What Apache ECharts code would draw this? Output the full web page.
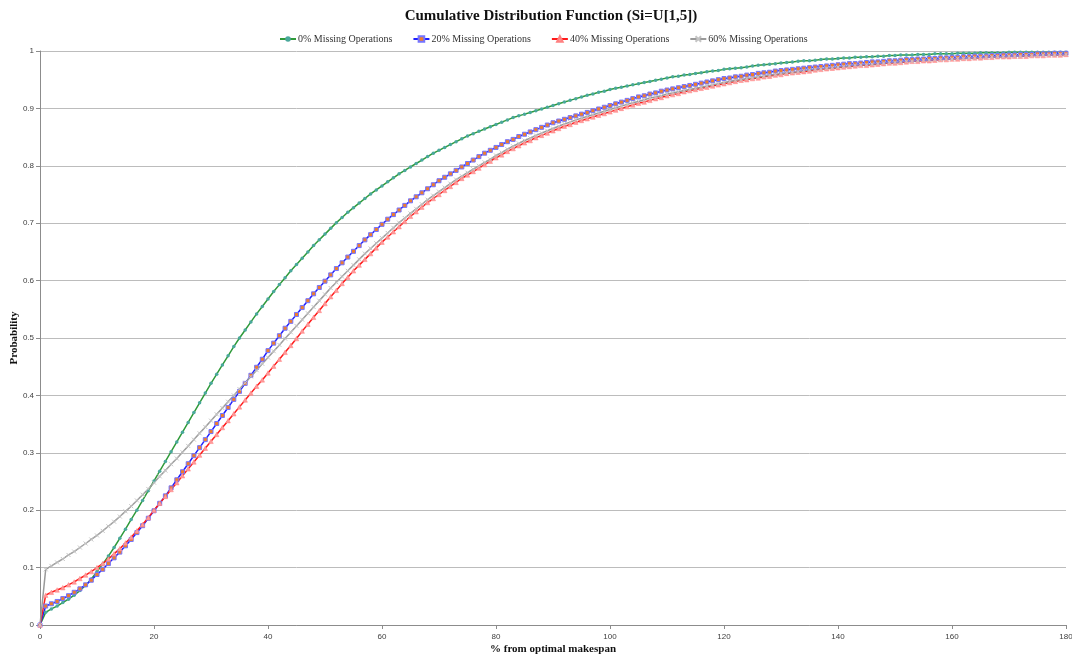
<!DOCTYPE html>
<html>
<head>
<meta charset="utf-8">
<script src="https://cdn.jsdelivr.net/npm/echarts@6/dist/echarts.min.js"></script>
<style>html,body{margin:0;padding:0;background:#fff}#c{width:1072px;height:660px}</style>
</head>
<body>
<div id="c"></div>
<script>
// % from optimal makespan (x positions of the points)
const makespanPct = [
  0,1,2,3,4,5,6,7,8,9,
  10,11,12,13,14,15,16,17,18,19,
  20,21,22,23,24,25,26,27,28,29,
  30,31,32,33,34,35,36,37,38,39,
  40,41,42,43,44,45,46,47,48,49,
  50,51,52,53,54,55,56,57,58,59,
  60,61,62,63,64,65,66,67,68,69,
  70,71,72,73,74,75,76,77,78,79,
  80,81,82,83,84,85,86,87,88,89,
  90,91,92,93,94,95,96,97,98,99,
  100,101,102,103,104,105,106,107,108,109,
  110,111,112,113,114,115,116,117,118,119,
  120,121,122,123,124,125,126,127,128,129,
  130,131,132,133,134,135,136,137,138,139,
  140,141,142,143,144,145,146,147,148,149,
  150,151,152,153,154,155,156,157,158,159,
  160,161,162,163,164,165,166,167,168,169,
  170,171,172,173,174,175,176,177,178,179,
  180
];

const missing0 = [
  0,0.022,0.028,0.033,0.039,0.045,0.052,0.06,0.069,0.08,
  0.093,0.106,0.12,0.135,0.151,0.167,0.184,0.2,0.217,0.234,
  0.251,0.268,0.285,0.302,0.319,0.336,0.353,0.37,0.387,0.404,
  0.421,0.437,0.453,0.469,0.485,0.5,0.514,0.528,0.542,0.555,
  0.568,0.581,0.593,0.605,0.617,0.628,0.639,0.65,0.661,0.671,
  0.681,0.691,0.701,0.71,0.719,0.727,0.735,0.743,0.751,0.758,
  0.765,0.772,0.779,0.786,0.792,0.798,0.804,0.81,0.816,0.822,
  0.827,0.832,0.837,0.842,0.847,0.852,0.856,0.86,0.864,0.868,
  0.872,0.876,0.88,0.884,0.887,0.89,0.893,0.896,0.899,0.902,
  0.905,0.908,0.911,0.914,0.917,0.92,0.923,0.925,0.928,0.93,
  0.933,0.935,0.937,0.939,0.941,0.943,0.945,0.947,0.949,0.951,
  0.953,0.955,0.956,0.958,0.959,0.961,0.962,0.964,0.965,0.966,
  0.968,0.969,0.97,0.971,0.972,0.974,0.975,0.976,0.977,0.978,
  0.979,0.98,0.981,0.982,0.983,0.983,0.984,0.985,0.986,0.986,
  0.987,0.988,0.988,0.989,0.989,0.99,0.99,0.991,0.991,0.992,
  0.992,0.993,0.993,0.993,0.994,0.994,0.994,0.995,0.995,0.995,
  0.995,0.996,0.996,0.996,0.996,0.997,0.997,0.997,0.997,0.997,
  0.998,0.998,0.998,0.998,0.998,0.998,0.998,0.998,0.998,0.998,
  0.998
];

const missing20 = [
  0,0.033,0.037,0.041,0.046,0.051,0.057,0.063,0.07,0.078,
  0.088,0.097,0.107,0.117,0.127,0.138,0.149,0.161,0.173,0.186,
  0.199,0.212,0.225,0.239,0.253,0.267,0.281,0.295,0.309,0.323,
  0.337,0.351,0.365,0.379,0.393,0.407,0.421,0.435,0.449,0.463,
  0.478,0.491,0.504,0.517,0.529,0.541,0.553,0.565,0.577,0.588,
  0.599,0.61,0.621,0.631,0.641,0.651,0.661,0.671,0.68,0.689,
  0.698,0.707,0.715,0.723,0.731,0.739,0.746,0.753,0.76,0.767,
  0.774,0.78,0.786,0.792,0.798,0.804,0.81,0.816,0.822,0.827,
  0.832,0.837,0.842,0.846,0.851,0.855,0.859,0.863,0.867,0.871,
  0.875,0.878,0.881,0.884,0.887,0.89,0.893,0.896,0.899,0.902,
  0.905,0.908,0.911,0.914,0.917,0.92,0.922,0.925,0.927,0.93,
  0.932,0.934,0.936,0.938,0.94,0.942,0.944,0.946,0.948,0.95,
  0.952,0.953,0.955,0.956,0.958,0.959,0.961,0.962,0.963,0.965,
  0.966,0.967,0.968,0.969,0.97,0.971,0.972,0.973,0.974,0.975,
  0.976,0.977,0.978,0.978,0.979,0.98,0.981,0.981,0.982,0.983,
  0.983,0.984,0.985,0.985,0.986,0.986,0.987,0.987,0.988,0.988,
  0.989,0.989,0.99,0.99,0.991,0.991,0.991,0.992,0.992,0.993,
  0.993,0.993,0.994,0.994,0.994,0.995,0.995,0.995,0.996,0.996,
  0.996
];

const missing40 = [
  0,0.052,0.057,0.061,0.065,0.07,0.075,0.081,0.087,0.093,
  0.1,0.107,0.115,0.124,0.133,0.143,0.153,0.164,0.175,0.187,
  0.2,0.212,0.224,0.236,0.248,0.26,0.272,0.284,0.296,0.308,
  0.32,0.332,0.344,0.356,0.368,0.38,0.392,0.404,0.416,0.427,
  0.439,0.451,0.463,0.475,0.487,0.499,0.512,0.524,0.536,0.548,
  0.56,0.572,0.583,0.595,0.606,0.617,0.627,0.637,0.647,0.657,
  0.667,0.676,0.685,0.694,0.703,0.712,0.72,0.728,0.736,0.743,
  0.75,0.757,0.764,0.771,0.778,0.784,0.79,0.796,0.802,0.808,
  0.814,0.819,0.825,0.83,0.835,0.84,0.844,0.849,0.853,0.857,
  0.861,0.865,0.869,0.872,0.876,0.879,0.882,0.885,0.888,0.891,
  0.894,0.897,0.9,0.903,0.906,0.909,0.911,0.914,0.917,0.919,
  0.922,0.924,0.926,0.929,0.931,0.933,0.935,0.937,0.939,0.941,
  0.943,0.945,0.947,0.949,0.95,0.952,0.953,0.955,0.956,0.958,
  0.959,0.961,0.962,0.963,0.964,0.965,0.967,0.968,0.969,0.97,
  0.971,0.972,0.973,0.974,0.975,0.975,0.976,0.977,0.978,0.979,
  0.979,0.98,0.981,0.982,0.982,0.983,0.983,0.984,0.985,0.985,
  0.986,0.986,0.987,0.987,0.988,0.988,0.989,0.989,0.99,0.99,
  0.99,0.991,0.991,0.991,0.992,0.992,0.992,0.993,0.993,0.993,
  0.994
];

const missing60 = [
  0,0.097,0.103,0.109,0.115,0.122,0.128,0.135,0.142,0.149,
  0.156,0.164,0.172,0.18,0.189,0.198,0.207,0.217,0.227,0.237,
  0.248,0.259,0.269,0.28,0.29,0.301,0.312,0.323,0.334,0.345,
  0.356,0.367,0.378,0.389,0.4,0.411,0.422,0.433,0.444,0.455,
  0.466,0.477,0.488,0.499,0.51,0.521,0.532,0.543,0.554,0.565,
  0.576,0.587,0.597,0.607,0.617,0.627,0.637,0.647,0.656,0.665,
  0.674,0.683,0.692,0.701,0.709,0.717,0.725,0.733,0.741,0.748,
  0.755,0.762,0.769,0.776,0.782,0.788,0.794,0.8,0.806,0.811,
  0.818,0.823,0.829,0.834,0.839,0.844,0.848,0.853,0.857,0.861,
  0.865,0.869,0.873,0.876,0.88,0.883,0.886,0.889,0.892,0.895,
  0.898,0.901,0.904,0.907,0.91,0.912,0.915,0.918,0.92,0.922,
  0.925,0.927,0.929,0.931,0.933,0.935,0.937,0.939,0.941,0.943,
  0.945,0.947,0.949,0.95,0.952,0.953,0.955,0.956,0.958,0.959,
  0.961,0.962,0.963,0.964,0.966,0.967,0.968,0.969,0.97,0.971,
  0.972,0.973,0.974,0.975,0.976,0.976,0.977,0.978,0.979,0.98,
  0.98,0.981,0.982,0.982,0.983,0.984,0.984,0.985,0.985,0.986,
  0.986,0.987,0.987,0.988,0.988,0.989,0.989,0.99,0.99,0.99,
  0.991,0.991,0.991,0.992,0.992,0.992,0.993,0.993,0.993,0.994,
  0.994
];

const seriesNames = ['0% Missing Operations','20% Missing Operations','40% Missing Operations','60% Missing Operations'];
const xTicks = [0,20,40,60,80,100,120,140,160,180];
const yTicks = [0,0.1,0.2,0.3,0.4,0.5,0.6,0.7,0.8,0.9,1];

const pairs = arr => arr.map((v, i) => [makespanPct[i], v]);
const serif = '"Liberation Serif", "DejaVu Serif", serif';
const sans = '"Liberation Sans", "DejaVu Sans", sans-serif';

const styles = [
  {line:'#2f9a3a', symbol:'circle', size:3.5, fill:'#4aa89c', border:'#4aa89c', bw:0},
  {line:'#1e1eff', symbol:'rect', size:4, fill:'#ee7d2d', border:'#7474ff', bw:1},
  {line:'#ff1a1a', symbol:'triangle', size:4.5, fill:'#ff9a9a', border:'#ff8080', bw:0.5},
  {line:'#9a9a9a', symbol:'path://M0,0L10,10M10,0L0,10', size:4, fill:'#c4c4c4', border:'#c4c4c4', bw:1}
];
const datasets = [missing0, missing20, missing40, missing60];

const chart = echarts.init(document.getElementById('c'), null, {renderer:'canvas'});
chart.setOption({
  animation:false,
  backgroundColor:'#ffffff',
  title:{
    text:'Cumulative Distribution Function (Si=U[1,5])',
    left:546, top:4, textAlign:'center',
    textStyle:{fontFamily:serif, fontWeight:'bold', fontSize:15, color:'#111'}
  },
  legend:{
    left:274, top:29,
    itemWidth:16, itemHeight:7, itemGap:20,
    textStyle:{fontFamily:serif, fontSize:10, color:'#333', padding:[0,0,0,-3]},
    data:seriesNames
  },
  grid:{left:40, right:6, top:51, bottom:35, containLabel:false, outerBoundsMode:'none'},
  xAxis:{
    type:'value', min:0, max:180, interval:20,
    name:'% from optimal makespan', nameLocation:'middle', nameGap:19, nameMoveOverlap:false,
    nameTextStyle:{fontFamily:serif, fontWeight:'bold', fontSize:11, color:'#111'},
    axisLine:{show:true, onZero:false, lineStyle:{color:'#8c8c8c', width:1}},
    axisTick:{show:true, length:4, lineStyle:{color:'#8c8c8c'}},
    axisLabel:{fontFamily:sans, fontSize:8, color:'#404040', margin:8,
      formatter: v => xTicks.indexOf(v) >= 0 ? String(v) : ''},
    splitLine:{show:false}
  },
  yAxis:{
    type:'value', min:0, max:1, interval:0.1,
    name:'Probability', nameLocation:'middle', nameGap:20, nameMoveOverlap:false,
    nameTextStyle:{fontFamily:serif, fontWeight:'bold', fontSize:11, color:'#111'},
    axisLine:{show:true, lineStyle:{color:'#8c8c8c', width:1}},
    axisTick:{show:true, length:4, lineStyle:{color:'#8c8c8c'}},
    axisLabel:{fontFamily:sans, fontSize:8, color:'#404040', margin:6,
      formatter: v => { const t = yTicks.find(y => Math.abs(y - v) < 1e-9); return t === undefined ? '' : String(t); }},
    splitLine:{show:true, lineStyle:{color:'#bcbcbc', width:1}}
  },
  series: datasets.map((d, i) => ({
    name: seriesNames[i],
    type:'line',
    data: pairs(d),
    showAllSymbol:true,
    symbol: styles[i].symbol,
    symbolSize: styles[i].size,
    lineStyle:{color:styles[i].line, width:1.5},
    itemStyle:{color:styles[i].fill, borderColor:styles[i].border, borderWidth:styles[i].bw},
    emphasis:{disabled:true}
  }))
});
</script>
</body>
</html>
